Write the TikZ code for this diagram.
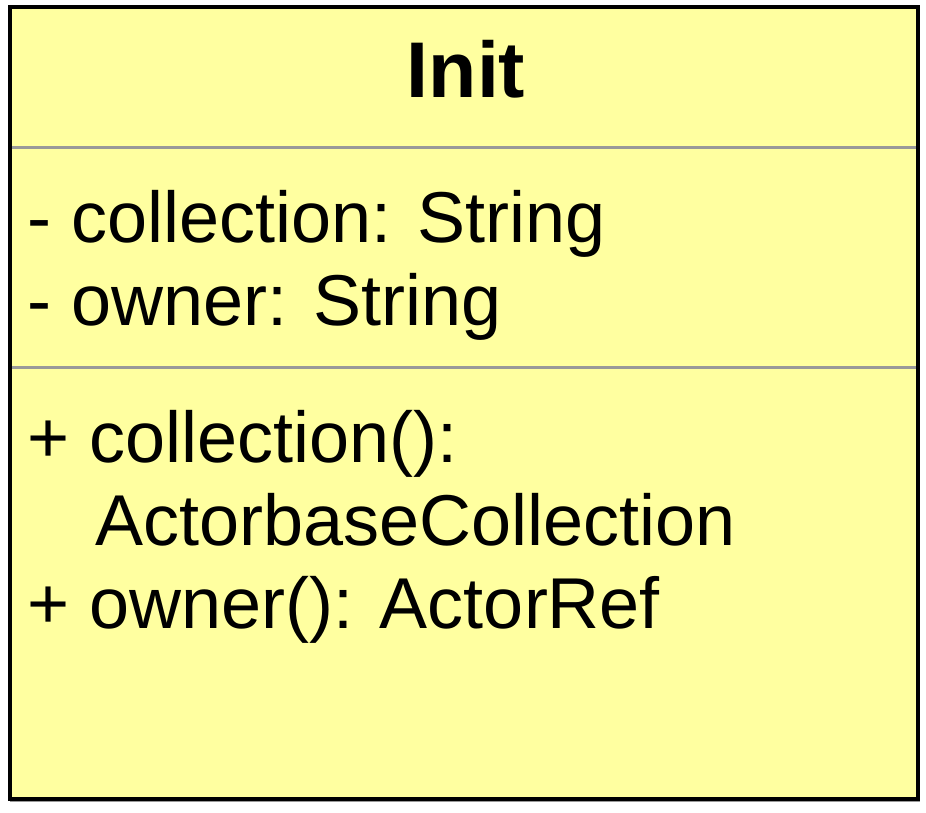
\documentclass[tikz,border=0pt]{standalone}
\usepackage{fontspec}
\setmainfont{Liberation Sans}
\definecolor{classfill}{RGB}{255,255,160}
\definecolor{sepgray}{RGB}{153,153,153}
\begin{document}
\begin{tikzpicture}[x=1pt, y=-1pt,
  member/.style={anchor=base west, inner sep=0pt, font=\fontsize{72}{83}\selectfont},
  title/.style={anchor=base, inner sep=0pt, font=\fontsize{79}{90}\selectfont\bfseries}]
\useasboundingbox (0,0) rectangle (926,812);

%%%%%%%%%%%% class box
  \draw[sepgray, line width=2pt] (10,801) -- (920,801);
  \draw[fill=classfill, line width=4pt] (10,7) rectangle (918,798.5);
  \foreach \y in {147.5, 367.5}
    \draw[sepgray, line width=3pt] (12,\y) -- (916,\y);

%%%%%%%%%%%% name
  \node[title] (name) at (466,97) {Init};

%%%%%%%%%%%% attributes
  \node[member] (attrcoll) at (27,242) {- collection: String};
  \node[member] (attrowner) at (27,325) {- owner: String};

%%%%%%%%%%%% operations
  \node[member] (opcoll) at (27,462) {+ collection():};
  \node[member] (opcolltype) at (95,545) {ActorbaseCollection};
  \node[member] (opowner) at (27,628) {+ owner(): ActorRef};
\end{tikzpicture}
\end{document}
